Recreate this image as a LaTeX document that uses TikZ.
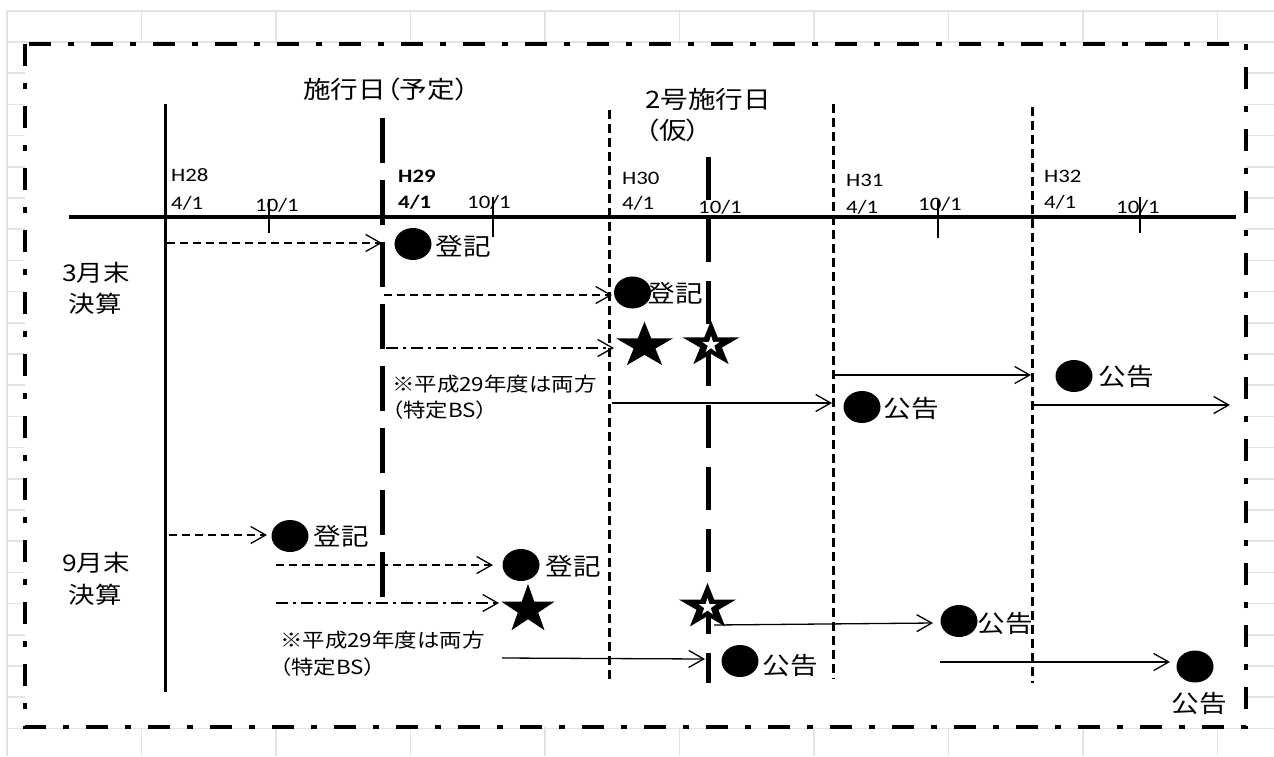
\documentclass[tikz,border=0pt]{standalone}
\usepackage{fontspec}
\setmainfont[FakeStretch=1.2]{Carlito}
\newfontfamily\jpfont[FakeStretch=1.15,RawFeature=+palt]{Noto Sans CJK JP}
\usetikzlibrary{arrows.meta}
\usetikzlibrary{shapes.geometric}

\tikzset{
  gridline/.style={gray!22, line width=1.5pt},
  frame/.style={line width=4.5pt, dash pattern=on 22pt off 17pt on 6pt off 17pt},
  datelbl/.style={anchor=west, inner sep=0pt, font=\fontsize{19}{19}\selectfont},
  headlbl/.style={inner sep=0pt, font=\jpfont\fontsize{24}{28}\selectfont},
  rowlbl/.style={inner sep=0pt, font=\jpfont\fontsize{23}{28}\selectfont},
  evlbl/.style={inner sep=0pt, font=\jpfont\fontsize{24}{28}\selectfont},
  notelbl/.style={anchor=west, inner sep=0pt, font=\jpfont\fontsize{19.5}{24}\selectfont},
  evdot/.style={ellipse, fill=black, minimum width=37pt, minimum height=32pt, inner sep=0pt},
  evstar/.style={star, star points=5, star point ratio=2.618, fill=black, inner sep=0pt, minimum size=48pt, transform shape},
  whitestar/.style={star, star points=5, star point ratio=2.618, fill=white, inner sep=0pt, minimum size=18pt, transform shape},
  flow/.style={line width=1.3pt, -{Straight Barb[length=15pt,width=17pt]}},
  regflow/.style={flow, dash pattern=on 8pt off 5pt},
  bsflow/.style={flow, dash pattern=on 12pt off 5pt on 3pt off 5pt},
  yearline/.style={line width=3pt, dash pattern=on 9pt off 5pt},
  dateline/.style={line width=5pt},
}

\begin{document}
\begin{tikzpicture}[x=1pt, y=-1pt]
    \useasboundingbox (0,0) rectangle (1274,756);

    \foreach \i in {0,...,22}
        \draw[gridline] (7,{42+31.2*\i}) -- (1274,{42+31.2*\i});
    \foreach \i in {0,...,9}
        \draw[gridline] ({7+134.5*\i},11) -- ({7+134.5*\i},756);
    \draw[gridline] (7,11) -- (1274,11);
    \draw[gridline] (7,11) -- (7,756);

    \fill[white] (25,44) rectangle (1246,727);
    \draw[frame] (25,44) rectangle (1246,727);

    \draw[line width=4pt] (69,216.5) -- (1236,216.5);
    \draw[line width=3pt] (165,104) -- (165,692);
    \draw[dateline, dash pattern=on 45pt off 17pt] (382,118) -- (382,597);
    \draw[dateline, dash pattern=on 43pt off 19pt] (708,157) -- (708,683);
    \foreach \x/\a/\b in {609/110/683, 833/104/679, 1032/107/683}
        \draw[yearline] (\x,\a) -- (\x,\b);
    \foreach \x/\a/\b in {269/199/233, 493/197/237, 938/200/238, 1140/197/233}
        \draw[line width=1.5pt] (\x,\a) -- (\x,\b);

    \foreach \nm/\x/\ya/\yb/\tx/\yc in {28/171/175/203/255/205, 30/622/178/203/698/207,
                                       31/846/180/207/918/204, 32/1044/176/202/1116/207} {
        \node[datelbl] (yr\nm) at (\x,\ya) {H\nm};
        \node[datelbl] (apr\nm) at (\x,\yb) {4/1};
        \node[datelbl] (oct\nm) at (\tx,\yc) {10/1};
    }
    \node[datelbl, font=\fontsize{19}{19}\selectfont\bfseries] (yr29) at (398,176) {H29};
    \node[datelbl, font=\fontsize{19}{19}\selectfont\bfseries] (apr29) at (398,202) {4/1};
    \node[datelbl] (oct29) at (467,202) {10/1};

    \node[headlbl] (kijitsu) at (386,89) {施行日（予定）};
    \node[headlbl, anchor=west] (nigo) at (645,99) {2号施行日};
    \node[headlbl, anchor=west] (kari) at (645,130) {（仮）};

    \node[rowlbl] (mar1) at (96,272.5) {3月末};
    \node[rowlbl] (mar2) at (95,304) {決算};
    \node[rowlbl] (sep1) at (96,563) {9月末};
    \node[rowlbl] (sep2) at (95,595) {決算};

    \node[notelbl] (note1) at (392,384) {※平成29年度は両方};
    \node[notelbl] (bs1) at (392,410) {（特定BS）};
    \node[notelbl] (note2) at (280,640) {※平成29年度は両方};
    \node[notelbl] (bs2) at (280,667) {（特定BS）};

    \foreach \xa/\ya/\xb/\yb [count=\k] in {167/243/382/243, 384/295/612/295,
                                            169/535/267/535, 276/565/493/565} {
        \coordinate (rs\k) at (\xa,\ya);
        \coordinate (re\k) at (\xb,\yb);
        \draw[regflow] (rs\k) -- (re\k);
    }
    \foreach \xa/\ya/\xb/\yb [count=\k] in {386/348/614/348, 276/603/499/603} {
        \coordinate (bss\k) at (\xa,\ya);
        \coordinate (bse\k) at (\xb,\yb);
        \draw[bsflow] (bss\k) -- (bse\k);
    }
    \foreach \xa/\ya/\xb/\yb [count=\k] in {833/375/1031/375, 612/403/832/403, 1034/405/1230/405,
                                            502/658/705/659, 714/625/933/623, 940/662/1170/662} {
        \coordinate (ps\k) at (\xa,\ya);
        \coordinate (pe\k) at (\xb,\yb);
        \draw[flow] (ps\k) -- (pe\k);
    }

    \foreach \x/\y/\tx/\ty/\lab [count=\k] in {413/244/463.5/246/登記, 632.5/292.5/675/293/登記,
                                               1074/376/1126/376.5/公告, 862/407/911/408/公告,
                                               290/536/341/536/登記, 521/565/573/566/登記,
                                               740/661/790/665/公告, 959/621/1005/623/公告,
                                               1195/666.5/1199/703/公告} {
        \node[evdot] (ev\k) at (\x,\y) {};
        \node[evlbl] (evt\k) at (\tx,\ty) {\lab};
    }

    \begin{scope}[shift={(644.5,345.7)}, xscale=1.25]
        \node[evstar] (st1) {};
    \end{scope}
    \begin{scope}[shift={(711,344.7)}, xscale=1.25]
        \node[evstar] (st2) {};
        \node[whitestar, xscale=0.8] (st2w) {};
    \end{scope}
    \begin{scope}[shift={(528,609.5)}, xscale=1.1]
        \node[evstar, minimum size=51pt] (st3) {};
    \end{scope}
    \begin{scope}[shift={(707.5,607)}, xscale=1.25]
        \node[evstar] (st4) {};
        \node[whitestar, xscale=0.8] (st4w) {};
    \end{scope}
\end{tikzpicture}
\end{document}
